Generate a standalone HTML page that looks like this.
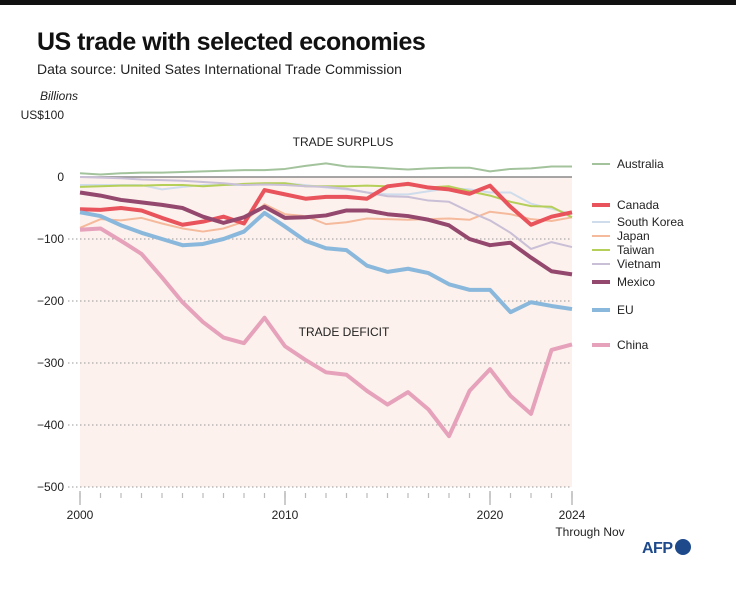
<!DOCTYPE html>
<html><head><meta charset="utf-8"><style>
body{margin:0;width:736px;height:597px;background:#fff;font-family:"Liberation Sans",sans-serif;overflow:hidden;position:relative}
.t{position:absolute;white-space:nowrap}
</style></head><body>
<div style="position:absolute;left:0;top:0;width:736px;height:5px;background:#111"></div>
<div class="t" style="left:37px;top:28px;font-size:25px;font-weight:bold;color:#111;letter-spacing:-0.5px">US trade with selected economies</div>
<div class="t" style="left:37px;top:61px;font-size:14px;color:#222">Data source: United Sates International Trade Commission</div>
<div class="t" style="left:40px;top:89px;font-size:12px;font-style:italic;color:#222">Billions</div>
<svg id="c" width="736" height="597" style="position:absolute;left:0;top:0"></svg>
<div class="t" style="left:642px;top:539px;font-size:16px;font-weight:bold;color:#1e4a8c;letter-spacing:-0.5px">AFP<span style="display:inline-block;width:16px;height:16px;border-radius:50%;background:#1e4a8c;vertical-align:-2px;margin-left:2px"></span></div>
<script>
const years=[2000,2001,2002,2003,2004,2005,2006,2007,2008,2009,2010,2011,2012,2013,2014,2015,2016,2017,2018,2019,2020,2021,2022,2023,2024];
const australia=[6,4,6,7,7,8,9,10,11,11,13,18,22,17,16,14,12,14,15,15,9,13,14,17,17];
const southKorea=[-13,-13,-13,-13,-20,-16,-13,-13,-13,-10,-10,-13,-17,-20,-25,-28,-28,-23,-18,-20,-25,-25,-43,-51,-60];
const japan=[-82,-68,-70,-66,-75,-83,-88,-83,-72,-44,-60,-63,-76,-73,-67,-68,-69,-68,-67,-69,-56,-60,-68,-71,-65];
const taiwan=[-16,-15,-14,-14,-13,-13,-15,-13,-11,-10,-10,-15,-15,-15,-14,-15,-13,-17,-15,-23,-30,-40,-47,-48,-65];
const vietnam=[0,-1,-2,-4,-5,-6,-8,-10,-13,-12,-13,-15,-16,-19,-25,-31,-32,-38,-40,-56,-70,-90,-116,-105,-113];
const canada=[-52,-53,-50,-54,-66,-77,-72,-64,-75,-21,-28,-35,-32,-32,-35,-15,-11,-17,-20,-27,-14,-48,-77,-64,-57];
const mexico=[-25,-30,-37,-41,-45,-50,-64,-74,-65,-48,-66,-65,-62,-54,-54,-60,-63,-69,-78,-100,-110,-106,-130,-152,-157];
const eu=[-57,-63,-78,-90,-100,-110,-108,-100,-88,-58,-80,-103,-115,-118,-143,-153,-148,-155,-173,-182,-182,-218,-202,-208,-213];
const china=[-85,-83,-103,-124,-162,-202,-234,-259,-268,-227,-273,-295,-315,-319,-345,-367,-347,-375,-418,-345,-310,-353,-382,-279,-270];
const yTicks=[100,0,-100,-200,-300,-400,-500];
const yTickLabels=["US$100","0","\u2212100","\u2212200","\u2212300","\u2212400","\u2212500"];
const xTicks=[2000,2010,2020,2024];
const NS="http://www.w3.org/2000/svg";
const svg=document.getElementById('c');
const X=v=>80+(v-2000)*(492/24);
const Y=v=>177-v*0.62;
function mk(t,a){const e=document.createElementNS(NS,t);for(const k in a)e.setAttribute(k,a[k]);svg.appendChild(e);return e;}
let e=mk('rect',{x:X(2000),y:Y(0),width:X(2024)-X(2000),height:Y(-500)-Y(0),fill:'#fcf1ec'});


yTicks.forEach((v,i)=>{
 if(v<0){const g=mk('line',{x1:68,x2:X(2024),y1:Y(v),y2:Y(v),stroke:'#999','stroke-dasharray':'1.5,2.5','stroke-width':1});
 
 }
 const t=mk('text',{x:64,y:Y(v)+4,'text-anchor':'end','font-size':12,fill:'#222'});t.textContent=yTickLabels[i];
 
 
});
xTicks.forEach(v=>{
 const l=mk('line',{x1:X(v),x2:X(v),y1:Y(-500)+4,y2:Y(-500)+18,stroke:'#bbb','stroke-width':1.5});
 
 
 const t=mk('text',{x:X(v),y:519,'text-anchor':'middle','font-size':12,fill:'#222'});t.textContent=v;
 
 
});
for(let y=2000;y<=2024;y++){const l=mk('line',{x1:X(y),x2:X(y),y1:Y(-500)+6,y2:Y(-500)+11,stroke:'#bbb','stroke-width':1.2});
 
 }
let t2=mk('text',{x:X(2024)+18,y:536,'text-anchor':'middle','font-size':12,fill:'#222'});t2.textContent='Through Nov';


let ts=mk('text',{x:343,y:146,'text-anchor':'middle','font-size':12,fill:'#222'});ts.textContent='TRADE SURPLUS';


let td=mk('text',{x:344,y:336,'text-anchor':'middle','font-size':12,fill:'#222'});td.textContent='TRADE DEFICIT';


const series=[
 ['Australia',australia,'#a3c39c',2,164,'australia'],
 ['South Korea',southKorea,'#cfdcec',2,222,'south-korea'],
 ['Japan',japan,'#f5b99c',2,236,'japan'],
 ['Taiwan',taiwan,'#b5cf58',2,250,'taiwan'],
 ['Vietnam',vietnam,'#c9bfd6',2,264,'vietnam'],
 ['Canada',canada,'#e8535c',4,205,'canada'],
 ['Mexico',mexico,'#94486e',4,282,'mexico'],
 ['EU',eu,'#8ab8dc',4,310,'eu'],
 ['China',china,'#e6a1bb',4,345,'china']];
let z=mk('line',{x1:X(2000),x2:X(2024),y1:Y(0),y2:Y(0),stroke:'#888','stroke-width':1.5});


series.forEach(s=>{
 const p=mk('polyline',{points:s[1].map((v,i)=>X(years[i])+','+Y(v)).join(' '),fill:'none',stroke:s[2],'stroke-width':s[3],'stroke-linejoin':'round'});
 
 
 const l=mk('line',{x1:592,x2:610,y1:s[4],y2:s[4],stroke:s[2],'stroke-width':s[3]});
 
 
 const t=mk('text',{x:617,y:s[4]+4,'font-size':12,fill:'#222'});t.textContent=s[0];
 
 
});
</script>
</body></html>
